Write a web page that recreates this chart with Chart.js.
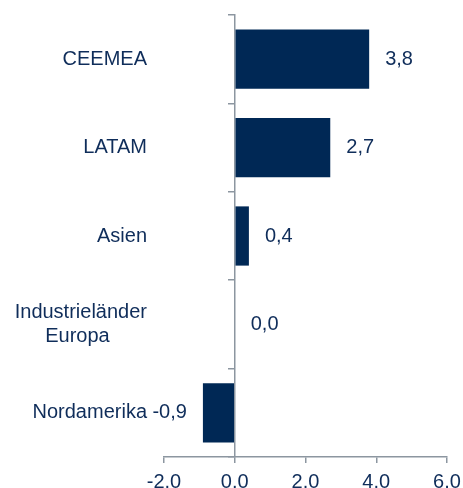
<!DOCTYPE html>
<html>
<head>
<meta charset="utf-8">
<script src="https://cdn.jsdelivr.net/npm/chart.js@4.4.0/dist/chart.umd.min.js"></script>
<style>
  html, body { margin: 0; padding: 0; background: #ffffff; overflow: hidden; }
  #wrap { width: 463px; height: 496px; }
</style>
</head>
<body>
<div id="wrap"><canvas id="c" width="463" height="496"></canvas></div>
<script>
// ---- data ----
const categories = ["CEEMEA", "LATAM", "Asien", ["Industrieländer", "Europa      \u2009"], "Nordamerika"];
const values = [3.8, 2.7, 0.4, 0.0, -0.9];
const xTickValues = [-2, 0, 2, 4, 6];

const NAVY = "#002855";
const TEXT = "#0f2d5a";
const AXIS = "#8c96a0";
const FONT = { family: "'Liberation Sans', Arial, sans-serif", size: 20 };

const valueLabels = {
  id: "valueLabels",
  afterDatasetsDraw(chart) {
    const ctx = chart.ctx;
    const meta = chart.getDatasetMeta(0);
    ctx.save();
    ctx.font = `${FONT.size}px ${FONT.family}`;
    ctx.fillStyle = TEXT;
    ctx.textBaseline = "middle";
    meta.data.forEach((bar, i) => {
      const v = values[i];
      const txt = v.toFixed(1).replace(".", ",");
      if (v >= 0) {
        ctx.textAlign = "left";
        ctx.fillText(txt, bar.x + 16, bar.y);
      } else {
        ctx.textAlign = "right";
        ctx.fillText(txt, bar.x - 16, bar.y);
      }
    });
    ctx.restore();
  }
};

new Chart(document.getElementById("c"), {
  type: "bar",
  data: {
    labels: categories,
    datasets: [{
      data: values,
      backgroundColor: NAVY,
      borderWidth: 0,
      categoryPercentage: 1,
      barPercentage: 0.67
    }]
  },
  options: {
    indexAxis: "y",
    responsive: false,
    animation: false,
    devicePixelRatio: 1,
    layout: { padding: { left: 12, right: 16, top: 15, bottom: 0 } },
    plugins: { legend: { display: false }, tooltip: { enabled: false } },
    scales: {
      x: {
        type: "linear",
        min: -2,
        max: 6,
        afterBuildTicks: (scale) => { scale.ticks = xTickValues.map(v => ({ value: v })); },
        afterFit: (scale) => { scale.height = 39; scale.paddingLeft = 0; scale.paddingRight = 0; },
        ticks: {
          color: TEXT,
          font: FONT,
          padding: 7,
          maxRotation: 0,
          callback: (v) => Number(v).toFixed(1)
        },
        grid: { drawOnChartArea: false, drawTicks: true, tickLength: 6, tickColor: AXIS, lineWidth: 1.5 },
        border: { display: true, color: AXIS, width: 1.5 }
      },
      y: {
        type: "category",
        position: "left",
        afterFit: (scale) => { scale.width = 152; scale.paddingTop = 0; scale.paddingBottom = 0; },
        ticks: { color: TEXT, font: FONT, padding: 17 },
        grid: { display: false, drawTicks: false },
        border: { display: false }
      },
      y2: {
        type: "category",
        position: { x: 0 },
        offset: true,
        afterFit: (scale) => { scale.paddingTop = 0; scale.paddingBottom = 0; },
        ticks: { display: false },
        grid: { offset: true, drawOnChartArea: false, drawTicks: true, tickLength: 6, tickColor: AXIS, lineWidth: 1.5 },
        border: { display: true, color: AXIS, width: 1.5 }
      }
    }
  },
  plugins: [valueLabels]
});
</script>
</body>
</html>
